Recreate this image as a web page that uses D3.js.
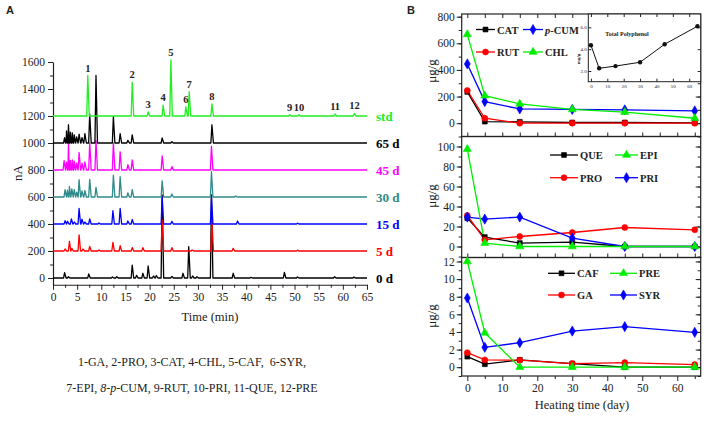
<!DOCTYPE html>
<html>
<head>
<meta charset="utf-8">
<script src="https://cdn.jsdelivr.net/npm/d3@7"></script>
<style>
  body { margin: 0; background: #fff; }
  text { font-family: "Liberation Serif", "Times New Roman", serif; fill: #222; }
</style>
</head>
<body>
<svg id="chart" width="708" height="421"></svg>
<script>
// ---------- panel A : chromatograms, peaks as [time (min), height (nA)] ----------
const traceNames = ["0 d", "5 d", "15 d", "30 d", "45 d", "65 d", "std"];
const traceOffsets = [0, 200, 400, 600, 800, 1000, 1200];
const traceColors = ["#000000", "#ff0000", "#0000ff", "#2e8a8a", "#ff00ff", "#000000", "#22ee22"];

const peaks0d = [[2.4, 40], [3.2, 10], [7.4, 30], [12.3, 8], [13.2, 10], [16.4, 96], [17.3, 20], [18.6, 35],
  [19.7, 89], [20.8, 15], [21.4, 18], [22.6, 615], [24.6, 12], [26.9, 35], [28.1, 232], [28.9, 15],
  [29.8, 10], [32.8, 615], [37.3, 35], [41.0, 5], [47.9, 42], [50.6, 8], [58.3, 10], [62.3, 8]];
const peaks5d = [[2.5, 15], [3.4, 71], [3.9, 20], [5.4, 120], [6.2, 15], [7.6, 34], [9.5, 8], [12.4, 64],
  [13.9, 39], [16.4, 25], [18.6, 25], [22.6, 235], [24.6, 25], [28.8, 8], [32.9, 235], [37.3, 20], [50.6, 6]];
const peaks15d = [[2.5, 25], [3.0, 20], [3.8, 37], [4.4, 15], [5.4, 116], [6.0, 35], [6.6, 15], [7.6, 37],
  [9.5, 8], [12.4, 98], [13.9, 116], [15.5, 22], [16.4, 34], [22.6, 200], [24.6, 20], [32.8, 200],
  [38.2, 22], [50.6, 6]];
const peaks30d = [[2.5, 55], [3.0, 50], [3.4, 78], [3.9, 60], [4.4, 55], [4.9, 35], [5.4, 128], [6.0, 45],
  [6.6, 48], [7.6, 131], [8.9, 72], [12.5, 161], [13.9, 151], [15.5, 30], [16.4, 54], [22.6, 120],
  [24.6, 22], [32.8, 187], [37.8, 8]];
const peaks45d = [[2.3, 70], [2.8, 60], [3.2, 200], [3.6, 70], [4.0, 75], [4.4, 65], [4.9, 50], [5.4, 130],
  [6.0, 50], [6.6, 60], [7.6, 200], [8.9, 220], [12.5, 200], [13.9, 135], [15.5, 40], [16.4, 75],
  [22.6, 105], [24.6, 25], [32.8, 175]];
const peaks65d = [[2.4, 40], [2.8, 90], [3.2, 135], [3.6, 80], [4.0, 75], [4.4, 60], [4.9, 45], [5.4, 65],
  [6.0, 40], [6.6, 70], [7.6, 215], [8.9, 500], [12.5, 195], [13.9, 70], [15.5, 20], [16.4, 60],
  [22.6, 38], [24.6, 10], [32.9, 135]];
const peaksStd = [[7.2, 300], [16.4, 250], [19.7, 30], [22.8, 80], [24.4, 415], [27.5, 70], [28.2, 180],
  [32.9, 90], [49.0, 10], [50.9, 10], [58.4, 15], [62.4, 20]];
const stdLabels = ["1", "2", "3", "4", "5", "6", "7", "8", "9", "10", "11", "12"];
const tracePeaks = [peaks0d, peaks5d, peaks15d, peaks30d, peaks45d, peaks65d, peaksStd];

// ---------- panel B : content vs heating time ----------
const days = [0, 5, 15, 30, 45, 65];
const catVals = [235, 12, 10, 5, 5, 3];
const pcumVals = [445, 162, 107, 103, 100, 92];
const rutVals = [245, 37, 0, 0, 0, 0];
const chlVals = [667, 207, 145, 103, 83, 37];
const queVals = [28.4, 9.4, 3.4, 4.4, 0, 0];
const proVals = [31, 6.7, 10, 14, 19, 16.7];
const epiVals = [97.4, 3.4, 0, 0, 0, 0];
const priVals = [29.4, 27.4, 29.4, 8.4, 0, 0];
const cafVals = [1.2, 0.34, 0.83, 0.4, 0, 0];
const gaVals = [1.65, 0.83, 0.8, 0.41, 0.52, 0.3];
const preVals = [12, 3.9, 0, 0, 0, 0];
const syrVals = [7.85, 2.26, 2.78, 4.1, 4.6, 3.96];
const totalPoly = [4.36, 2.25, 2.45, 2.8, 4.45, 6.1];

const svg = d3.select("#chart");
svg.append("rect").attr("width", 708).attr("height", 421).attr("fill", "#fff");

// panel letters
svg.append("text").attr("x", 6).attr("y", 14).text("A")
  .style("font-family", "Liberation Sans, Arial, sans-serif").style("font-weight", "bold").style("font-size", "11px");
svg.append("text").attr("x", 407).attr("y", 14).text("B")
  .style("font-family", "Liberation Sans, Arial, sans-serif").style("font-weight", "bold").style("font-size", "11px");

// ================= panel A =================
const xA = d3.scaleLinear().domain([0, 65]).range([53, 367]);
const yA = d3.scaleLinear().domain([-50, 1600]).range([284.75, 62]);
const gA = svg.append("g");
const fmt = d3.format("d");

function styleAxis(g, fs) {
  g.selectAll("line").attr("stroke", "#222").attr("stroke-width", 1);
  g.selectAll("path").attr("stroke", "#222").attr("stroke-width", 1.2);
  g.selectAll("text").style("font-size", fs + "px").attr("fill", "#222");
}

gA.append("g").attr("transform", "translate(0,284.75)")
  .call(d3.axisBottom(xA).tickValues(d3.range(2.5, 65, 5)).tickSize(3).tickSizeOuter(0).tickFormat(""))
  .call(g => g.select(".domain").remove()).call(g => styleAxis(g, 11));
gA.append("g").attr("transform", "translate(0,284.75)")
  .call(d3.axisBottom(xA).tickValues(d3.range(0, 66, 5)).tickSize(5).tickSizeOuter(0).tickPadding(3).tickFormat(fmt))
  .call(g => styleAxis(g, 11.5));
gA.append("g").attr("transform", "translate(53,0)")
  .call(d3.axisLeft(yA).tickValues(d3.range(100, 1600, 200)).tickSize(3).tickSizeOuter(0).tickFormat(""))
  .call(g => g.select(".domain").remove()).call(g => styleAxis(g, 11));
gA.append("g").attr("transform", "translate(53,0)")
  .call(d3.axisLeft(yA).tickValues(d3.range(0, 1601, 200)).tickSize(5).tickSizeOuter(0).tickPadding(3).tickFormat(fmt))
  .call(g => styleAxis(g, 11.5));

gA.append("text").attr("transform", "translate(22,173) rotate(-90)").attr("text-anchor", "middle")
  .style("font-size", "13px").text("nA");
gA.append("text").attr("x", 210).attr("y", 321).attr("text-anchor", "middle")
  .style("font-size", "12.5px").text("Time (min)");

// trace built from the peak list: baseline - apex - baseline for each peak
const halfW = 0.22;
function tracePoints(peaks) {
  const pts = [[0, 0]];
  peaks.forEach(p => { pts.push([p[0] - halfW, 0], [p[0], p[1]], [p[0] + halfW * 1.4, 0]); });
  pts.push([65, 0]);
  return pts.sort((a, b) => a[0] - b[0]);
}

tracePeaks.forEach((pk, i) => {
  const off = traceOffsets[i];
  const line = d3.line().x(d => xA(d[0])).y(d => yA(d[1] + off));
  gA.append("path").datum(tracePoints(pk))
    .attr("d", line).attr("fill", "none")
    .attr("stroke", traceColors[i]).attr("stroke-width", 1.3).attr("stroke-linejoin", "round");
  gA.append("text").attr("x", 376).attr("y", yA(off) + 4.5)
    .style("font-size", "13px").style("font-weight", "bold")
    .style("fill", traceColors[i]).text(traceNames[i]);
});

// numbered standard peaks
gA.selectAll(".plab").data(peaksStd).enter().append("text")
  .attr("class", "plab")
  .attr("x", d => xA(d[0]))
  .attr("y", d => yA(1200 + d[1]) - 4)
  .attr("text-anchor", "middle")
  .style("font-size", "10.5px").style("font-weight", "bold")
  .text((d, i) => stdLabels[i]);

// compound key
const key = gA.append("g").style("font-size", "12px");
key.append("text").attr("x", 192).attr("y", 366).attr("text-anchor", "middle")
  .text("1-GA, 2-PRO, 3-CAT, 4-CHL, 5-CAF,\u00a0\u00a06-SYR,");
const k2 = key.append("text").attr("x", 192).attr("y", 392).attr("text-anchor", "middle");
k2.append("tspan").text("7-EPI, ");
k2.append("tspan").style("font-style", "italic").text("8-p-");
k2.append("tspan").text("CUM, 9-RUT, 10-PRI, 11-QUE, 12-PRE");

// ================= panel B =================
const xL = 461.7, xR = 700.7;
const xB = d3.scaleLinear().domain([-1.6, 66.7]).range([xL, xR]);

const sym = {
  square: d3.symbol().type(d3.symbolSquare).size(24),
  circle: d3.symbol().type(d3.symbolCircle).size(28),
  triangle: d3.symbol().type(d3.symbolTriangle).size(28),
  diamond: d3.symbol().type(d3.symbolDiamond).size(30)
};

const panels = [
  { top: 14, bottom: 136.5, domain: [-100, 820], major: d3.range(0, 801, 200), minor: d3.range(-100, 820, 100),
    yTitle: 71, topTicks: true,
    series: [
      { name: "CAT", vals: catVals, color: "#000000", sym: "square" },
      { name: "RUT", vals: rutVals, color: "#ff0000", sym: "circle" },
      { name: "p-CUM", vals: pcumVals, color: "#0000ff", sym: "diamond" },
      { name: "CHL", vals: chlVals, color: "#00ee00", sym: "triangle" }
    ],
    legend: { cols: [[476, 495], [523, 543]], rows: [29.5, 52], order: [["CAT", "p-CUM"], ["RUT", "CHL"]] } },
  { top: 136.5, bottom: 257.5, domain: [-11, 110], major: d3.range(0, 101, 20), minor: d3.range(-10, 110, 10),
    yTitle: 196,
    series: [
      { name: "QUE", vals: queVals, color: "#000000", sym: "square" },
      { name: "PRO", vals: proVals, color: "#ff0000", sym: "circle" },
      { name: "PRI", vals: priVals, color: "#0000ff", sym: "diamond" },
      { name: "EPI", vals: epiVals, color: "#00ee00", sym: "triangle" }
    ],
    legend: { cols: [[550, 578], [615, 638]], rows: [155, 177.7], order: [["QUE", "EPI"], ["PRO", "PRI"]] } },
  { top: 257.5, bottom: 376, domain: [-1, 12.45], major: d3.range(0, 13, 2), minor: d3.range(-1, 12.5, 1),
    yTitle: 316, labelsX: true,
    series: [
      { name: "CAF", vals: cafVals, color: "#000000", sym: "square" },
      { name: "GA", vals: gaVals, color: "#ff0000", sym: "circle" },
      { name: "SYR", vals: syrVals, color: "#0000ff", sym: "diamond" },
      { name: "PRE", vals: preVals, color: "#00ee00", sym: "triangle" }
    ],
    legend: { cols: [[548, 575], [610, 637]], rows: [273.3, 295], order: [["CAF", "PRE"], ["GA", "SYR"]] } }
];

const gB = svg.append("g");

panels.forEach(p => {
  const y = d3.scaleLinear().domain(p.domain).range([p.bottom, p.top]);
  const g = gB.append("g");

  // left ticks (outward) with labels
  g.append("g").attr("transform", `translate(${xL},0)`)
    .call(d3.axisLeft(y).tickValues(p.minor).tickSize(3).tickSizeOuter(0).tickFormat(""))
    .call(a => a.select(".domain").remove()).call(a => styleAxis(a, 11));
  g.append("g").attr("transform", `translate(${xL},0)`)
    .call(d3.axisLeft(y).tickValues(p.major).tickSize(5).tickSizeOuter(0).tickPadding(2).tickFormat(fmt))
    .call(a => a.select(".domain").remove()).call(a => styleAxis(a, 11.5));
  // right ticks (inward)
  g.append("g").attr("transform", `translate(${xR},0)`)
    .call(d3.axisRight(y).tickValues(p.minor).tickSize(-3).tickSizeOuter(0).tickFormat(""))
    .call(a => a.select(".domain").remove()).call(a => styleAxis(a, 11));
  g.append("g").attr("transform", `translate(${xR},0)`)
    .call(d3.axisRight(y).tickValues(p.major).tickSize(-5).tickSizeOuter(0).tickFormat(""))
    .call(a => a.select(".domain").remove()).call(a => styleAxis(a, 11));

  // bottom ticks
  if (p.labelsX) {
    g.append("g").attr("transform", `translate(0,${p.bottom})`)
      .call(d3.axisBottom(xB).tickValues(d3.range(5, 66, 10)).tickSize(3).tickSizeOuter(0).tickFormat(""))
      .call(a => a.select(".domain").remove()).call(a => styleAxis(a, 11));
    g.append("g").attr("transform", `translate(0,${p.bottom})`)
      .call(d3.axisBottom(xB).tickValues(d3.range(0, 61, 10)).tickSize(5).tickSizeOuter(0).tickPadding(3).tickFormat(fmt))
      .call(a => a.select(".domain").remove()).call(a => styleAxis(a, 11.5));
  } else {
    g.append("g").attr("transform", `translate(0,${p.bottom})`)
      .call(d3.axisBottom(xB).tickValues(d3.range(0, 66, 5)).tickSize(-4).tickSizeOuter(0).tickFormat(""))
      .call(a => a.select(".domain").remove()).call(a => styleAxis(a, 11));
  }
  if (p.topTicks) {
    g.append("g").attr("transform", `translate(0,${p.top})`)
      .call(d3.axisTop(xB).tickValues(d3.range(0, 66, 5)).tickSize(-4).tickSizeOuter(0).tickFormat(""))
      .call(a => a.select(".domain").remove()).call(a => styleAxis(a, 11));
  }

  // frame
  g.append("rect").attr("x", xL).attr("y", p.top).attr("width", xR - xL).attr("height", p.bottom - p.top)
    .attr("fill", "none").attr("stroke", "#222").attr("stroke-width", 1.2);

  g.append("text").attr("transform", `translate(436,${p.yTitle}) rotate(-90)`).attr("text-anchor", "middle")
    .style("font-size", "13px").text("\u03bcg/g");

  // series
  const line = d3.line().x((d, i) => xB(days[i])).y(d => y(d));
  p.series.forEach(s => {
    g.append("path").datum(s.vals).attr("d", line).attr("fill", "none")
      .attr("stroke", s.color).attr("stroke-width", 1.3);
  });
  p.series.forEach(s => {
    g.selectAll(null).data(s.vals).enter().append("path")
      .attr("d", sym[s.sym])
      .attr("transform", (d, i) => `translate(${xB(days[i])},${y(d)})`)
      .attr("fill", s.color).attr("stroke", s.color).attr("stroke-width", 0.6);
  });

  // legend
  const byName = {};
  p.series.forEach(s => { byName[s.name] = s; });
  p.legend.order.forEach((row, r) => {
    row.forEach((name, c) => {
      const s = byName[name];
      const [x0, x1] = p.legend.cols[c];
      const ly = p.legend.rows[r];
      g.append("line").attr("x1", x0).attr("x2", x1).attr("y1", ly).attr("y2", ly)
        .attr("stroke", s.color).attr("stroke-width", 1.3);
      g.append("path").attr("d", sym[s.sym]).attr("transform", `translate(${(x0 + x1) / 2},${ly})`)
        .attr("fill", s.color).attr("stroke", s.color).attr("stroke-width", 0.6);
      const t = g.append("text").attr("x", x1 + 2).attr("y", ly + 4)
        .style("font-size", "10.5px").style("font-weight", "bold");
      if (name === "p-CUM") {
        t.append("tspan").style("font-style", "italic").text("p");
        t.append("tspan").text("-CUM");
      } else {
        t.text(name);
      }
    });
  });
});

gB.append("text").attr("x", 582).attr("y", 409).attr("text-anchor", "middle")
  .style("font-size", "12.5px").text("Heating time (day)");

// inset: total polyphenol
const ix0 = 588.3, ix1 = 700.7, iy0 = 14, iy1 = 81.7;
const xI = d3.scaleLinear().domain([-1.6, 67]).range([ix0, ix1]);
const yI = d3.scaleLinear().domain([1.02, 7.22]).range([iy1, iy0]);
const gI = gB.append("g");
gI.append("rect").attr("x", ix0).attr("y", iy0).attr("width", ix1 - ix0).attr("height", iy1 - iy0)
  .attr("fill", "#fff").attr("stroke", "#222").attr("stroke-width", 1);
gI.append("g").attr("transform", `translate(0,${iy1})`)
  .call(d3.axisBottom(xI).tickValues(d3.range(0, 61, 10)).tickSize(-3).tickSizeOuter(0).tickPadding(3))
  .call(a => a.select(".domain").remove()).call(a => styleAxis(a, 5));
gI.append("g").attr("transform", `translate(0,${iy0})`)
  .call(d3.axisTop(xI).tickValues(d3.range(0, 61, 10)).tickSize(-3).tickSizeOuter(0).tickFormat(""))
  .call(a => a.select(".domain").remove()).call(a => styleAxis(a, 5));
gI.append("g").attr("transform", `translate(${ix0},0)`)
  .call(d3.axisLeft(yI).tickValues([2, 4, 6]).tickSize(-3).tickSizeOuter(0).tickPadding(1.5))
  .call(a => a.select(".domain").remove()).call(a => styleAxis(a, 5));
gI.append("g").attr("transform", `translate(${ix1},0)`)
  .call(d3.axisRight(yI).tickValues([2, 4, 6]).tickSize(-3).tickSizeOuter(0).tickFormat(""))
  .call(a => a.select(".domain").remove()).call(a => styleAxis(a, 5));
gI.append("text").attr("transform", `translate(580,59) rotate(-90)`).attr("text-anchor", "middle")
  .style("font-size", "5px").style("font-weight", "bold").text("mg/g");
gI.append("text").attr("x", 627).attr("y", 36).attr("text-anchor", "middle")
  .style("font-size", "6px").style("font-weight", "bold").text("Total Polyphenol");
gI.append("path").datum(totalPoly)
  .attr("d", d3.line().x((d, i) => xI(days[i])).y(d => yI(d)))
  .attr("fill", "none").attr("stroke", "#111").attr("stroke-width", 1);
gI.selectAll(null).data(totalPoly).enter().append("circle")
  .attr("cx", (d, i) => xI(days[i])).attr("cy", d => yI(d)).attr("r", 2.2).attr("fill", "#111");
</script>
</body>
</html>
